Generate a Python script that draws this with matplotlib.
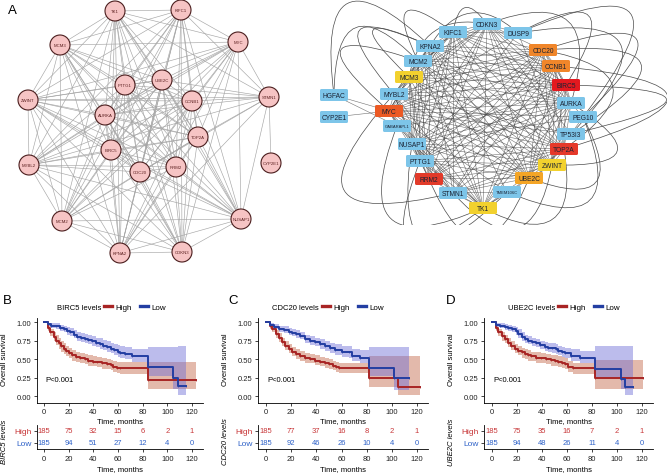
import matplotlib
matplotlib.use("Agg")
import matplotlib.pyplot as plt
from matplotlib.lines import Line2D
from matplotlib.patches import Circle, FancyArrowPatch, FancyBboxPatch

plt.rcParams["font.family"] = ["Liberation Sans", "DejaVu Sans"]

W, H = 667, 477

# ---------------------------------------------------------------- data

# panel A, left: PPI network (layout in picture pixels)
left_layout = {
    "TK1": (115, 12), "KIFC1": (181, 11), "MYC": (238, 43), "MCM3": (60, 46),
    "UBE2C": (162, 81), "PTTG1": (125, 86), "STMN1": (269, 98),
    "ZWINT": (28, 101), "CCNB1": (192, 102), "AURKA": (105, 116),
    "TOP2A": (198, 138), "BIRC5": (111, 151), "CYP2E1": (271, 164),
    "MYBL2": (29, 166), "CDC20": (140, 173), "RRM2": (176, 168),
    "MCM2": (62, 222), "NUSAP1": (241, 220), "KPNA2": (120, 254),
    "CDKN3": (182, 253),
}
left_edges = {
    "TK1": "KIFC1 MYC MCM3 UBE2C PTTG1 STMN1 ZWINT CCNB1 AURKA TOP2A BIRC5 MYBL2 CDC20 RRM2 MCM2 NUSAP1 KPNA2 CDKN3",
    "KIFC1": "MYC MCM3 UBE2C PTTG1 STMN1 ZWINT CCNB1 AURKA TOP2A BIRC5 MYBL2 CDC20 RRM2 MCM2 NUSAP1 KPNA2 CDKN3",
    "MYC": "MCM3 UBE2C PTTG1 STMN1 ZWINT CCNB1 AURKA TOP2A BIRC5 MYBL2 CDC20 MCM2 NUSAP1 KPNA2 CDKN3",
    "MCM3": "UBE2C PTTG1 ZWINT CCNB1 AURKA TOP2A BIRC5 MYBL2 CDC20 RRM2 MCM2 NUSAP1 KPNA2 CDKN3",
    "UBE2C": "PTTG1 STMN1 ZWINT CCNB1 AURKA TOP2A BIRC5 MYBL2 CDC20 RRM2 MCM2 NUSAP1 KPNA2 CDKN3",
    "PTTG1": "STMN1 ZWINT CCNB1 AURKA TOP2A BIRC5 MYBL2 CDC20 RRM2 MCM2 NUSAP1 KPNA2 CDKN3",
    "STMN1": "ZWINT CCNB1 AURKA TOP2A CYP2E1 CDC20 NUSAP1 KPNA2 MYBL2",
    "ZWINT": "CCNB1 AURKA TOP2A BIRC5 MYBL2 CDC20 RRM2 MCM2 NUSAP1 KPNA2 CDKN3",
    "CCNB1": "AURKA TOP2A BIRC5 MYBL2 CDC20 RRM2 MCM2 NUSAP1 KPNA2 CDKN3",
    "AURKA": "TOP2A BIRC5 MYBL2 CDC20 RRM2 MCM2 NUSAP1 KPNA2 CDKN3",
    "TOP2A": "BIRC5 MYBL2 CDC20 RRM2 MCM2 NUSAP1 KPNA2 CDKN3",
    "BIRC5": "MYBL2 CDC20 RRM2 MCM2 NUSAP1 KPNA2 CDKN3",
    "MYBL2": "CDC20 RRM2 MCM2 NUSAP1 KPNA2 CDKN3",
    "CDC20": "RRM2 MCM2 NUSAP1 KPNA2 CDKN3",
    "RRM2": "MCM2 NUSAP1 KPNA2 CDKN3",
    "MCM2": "NUSAP1 KPNA2 CDKN3",
    "NUSAP1": "KPNA2 CDKN3",
    "KPNA2": "CDKN3",
}

# panel A, right: hub network
right_layout = {
    "CDKN3": (487, 25), "KIFC1": (453, 33), "DUSP9": (518, 34),
    "KPNA2": (430, 47), "CDC20": (543, 51), "MCM2": (418, 62),
    "CCNB1": (556, 67), "MCM3": (409, 78), "BIRC5": (566, 86),
    "MYBL2": (394, 95), "HGFAC": (334, 96), "AURKA": (571, 104),
    "MYC": (389, 112), "CYP2E1": (334, 118), "PEG10": (583, 118),
    "GABARAPL1": (397, 127), "TP53I3": (571, 135), "NUSAP1": (412, 145),
    "TOP2A": (564, 150), "PTTG1": (420, 162), "ZWINT": (552, 166),
    "RRM2": (429, 180), "UBE2C": (529, 179), "STMN1": (453, 194),
    "TMEM106C": (507, 193), "TK1": (483, 209),
}
hub_colors = {
    "BIRC5": "#E3191F", "TOP2A": "#E5392A", "RRM2": "#E23B2A",
    "MYC": "#EC5A24", "CDC20": "#F0862A", "CCNB1": "#F0862A",
    "UBE2C": "#F4A526", "MCM3": "#F2D12E", "ZWINT": "#F2D12E",
    "TK1": "#F2D12E",
}
right_extra = {
    "HGFAC": "MYC GABARAPL1",
    "CYP2E1": "MYC",
    "DUSP9": "MYC KIFC1 CDKN3 TOP2A PTTG1",
    "PEG10": "MYC TP53I3 AURKA NUSAP1",
    "TP53I3": "MYC CDKN3 MYBL2",
    "GABARAPL1": "MYC TK1 AURKA",
    "TMEM106C": "MYC STMN1 KPNA2",
}
right_loops = [
    ("DUSP9", "TP53I3"), ("CDC20", "PEG10"), ("CCNB1", "TOP2A"),
    ("BIRC5", "TP53I3"), ("DUSP9", "BIRC5"), ("CDKN3", "AURKA"),
    ("KIFC1", "CDKN3"), ("KPNA2", "DUSP9"), ("KPNA2", "MYBL2"),
    ("MCM2", "MYC"), ("HGFAC", "MCM2"), ("MYBL2", "STMN1"),
    ("GABARAPL1", "TK1"), ("NUSAP1", "TMEM106C"), ("RRM2", "UBE2C"),
    ("PTTG1", "TK1"), ("STMN1", "ZWINT"), ("TK1", "TOP2A"),
    ("UBE2C", "PEG10"), ("ZWINT", "AURKA"), ("TOP2A", "CDC20"),
    ("MCM3", "CDKN3"), ("PEG10", "TMEM106C"), ("CDC20", "TP53I3"),
    ("DUSP9", "PEG10"), ("KIFC1", "MCM2"), ("KPNA2", "MCM3"),
    ("HGFAC", "KPNA2"),
]
loop_rads = [-1.5, -2.2, -2.6, -4.0, -1.8, -1.0, -1.2, -0.6, 2.2, 2.5,
             -1.2, 1.6, 1.2, 1.5, 1.2, 1.8, 1.0, 1.0, 1.3, 1.8, 1.2,
             -0.5, -1.2, -2.0, -1.9, 2.0, 3.0, -1.4]

# panels B-D: Kaplan-Meier curves (months, survival, 95% CI)
birc5_high = dict(
    t=[0, 3, 5, 8, 10, 12, 14, 16, 18, 20, 23, 26, 29, 33, 36, 40, 43, 47, 51, 54, 56, 59, 62, 84.5, 123],
    s=[1, .92, .86, .80, .75, .71, .67, .64, .61, .58, .55, .53, .51, .495, .48, .465, .455, .44, .43, .415, .39, .38, .375, .22, .22],
    lo=[1, .88, .81, .74, .69, .64, .60, .57, .54, .51, .48, .46, .44, .43, .41, .40, .39, .37, .36, .35, .33, .31, .30, .09, .09],
    hi=[1, .96, .91, .86, .82, .78, .74, .71, .68, .65, .62, .60, .58, .57, .55, .54, .53, .51, .50, .49, .47, .46, .46, .46, .46])
birc5_low = dict(
    t=[0, 3, 6, 10, 13, 16, 19, 21, 24, 27, 30, 33, 36, 39, 42, 45, 48, 51, 54, 57, 60, 62, 66, 71, 84, 104.5, 109, 115],
    s=[1, .97, .95, .94, .92, .905, .88, .86, .83, .80, .785, .77, .755, .74, .72, .70, .68, .66, .64, .62, .60, .58, .57, .535, .39, .245, .14, .14],
    lo=[1, .94, .92, .90, .88, .86, .83, .81, .78, .75, .73, .71, .70, .68, .66, .64, .62, .60, .58, .55, .53, .51, .50, .46, .27, .10, .02, .02],
    hi=[1, .99, .98, .98, .96, .95, .93, .92, .89, .87, .85, .84, .83, .81, .79, .78, .76, .74, .72, .70, .69, .67, .66, .63, .66, .66, .68, .68])
cdc20_high = dict(
    t=[0, 3, 5, 8, 10, 13, 15, 18, 21, 24, 27, 31, 35, 39, 43, 47, 50, 53, 56, 58, 81.5, 105, 122],
    s=[1, .94, .905, .84, .79, .73, .68, .64, .60, .565, .545, .51, .50, .48, .465, .45, .43, .41, .39, .375, .25, .125, .125],
    lo=[1, .91, .86, .79, .73, .67, .62, .58, .54, .50, .48, .45, .44, .42, .40, .385, .37, .35, .33, .31, .12, .02, .02],
    hi=[1, .97, .95, .89, .85, .79, .74, .70, .66, .63, .61, .58, .57, .55, .53, .52, .50, .48, .46, .45, .54, .54, .54])
cdc20_low = dict(
    t=[0, 3, 6, 10, 14, 18, 21, 24, 27, 31, 35, 39, 43, 47, 51, 55, 60, 66, 68, 75, 81.5, 101.5, 113.5],
    s=[1, .96, .93, .905, .89, .87, .85, .835, .815, .77, .745, .725, .70, .67, .645, .625, .60, .59, .545, .52, .375, .25, .25],
    lo=[1, .93, .90, .87, .85, .83, .81, .79, .77, .72, .69, .67, .64, .61, .58, .56, .53, .52, .47, .44, .27, .08, .08],
    hi=[1, .99, .97, .95, .94, .92, .90, .89, .87, .83, .81, .79, .77, .74, .72, .70, .68, .67, .64, .62, .66, .66, .66])
ube2c_high = dict(
    t=[0, 3, 5, 8, 10, 13, 15, 18, 21, 24, 26, 29, 31, 35, 39, 43, 47, 50, 53, 56, 58, 61, 65, 82, 121],
    s=[1, .92, .86, .81, .77, .72, .68, .64, .61, .59, .57, .55, .535, .52, .51, .50, .485, .475, .465, .45, .43, .39, .375, .24, .24],
    lo=[1, .88, .81, .75, .71, .66, .62, .58, .55, .52, .50, .48, .47, .45, .44, .43, .41, .40, .39, .38, .36, .32, .30, .10, .10],
    hi=[1, .96, .91, .87, .83, .78, .74, .70, .67, .65, .63, .62, .60, .59, .58, .57, .56, .55, .54, .53, .51, .47, .45, .49, .49])
ube2c_low = dict(
    t=[0, 3, 6, 10, 13, 16, 19, 21, 24, 26, 29, 32, 35, 38, 42, 45, 48, 51, 53, 56, 58, 63, 70, 82, 103, 106, 113],
    s=[1, .96, .95, .93, .92, .905, .88, .84, .80, .77, .75, .725, .71, .69, .665, .655, .645, .63, .61, .59, .575, .545, .51, .365, .23, .125, .125],
    lo=[1, .93, .92, .89, .88, .86, .83, .79, .75, .72, .70, .67, .66, .63, .61, .60, .58, .57, .55, .53, .51, .48, .44, .26, .09, .02, .02],
    hi=[1, .99, .98, .97, .96, .95, .93, .90, .86, .83, .81, .79, .77, .75, .73, .72, .71, .70, .68, .66, .65, .64, .61, .68, .68, .68, .68])

risk_times = [0, 20, 40, 60, 80, 100, 120]
birc5_risk_high = [185, 75, 32, 15, 6, 2, 1]
birc5_risk_low = [185, 94, 51, 27, 12, 4, 0]
cdc20_risk_high = [185, 77, 37, 16, 8, 2, 1]
cdc20_risk_low = [185, 92, 46, 26, 10, 4, 0]
ube2c_risk_high = [185, 75, 35, 16, 7, 2, 1]
ube2c_risk_low = [185, 94, 48, 26, 11, 4, 0]

# ---------------------------------------------------------------- style

RED = "#A82424"
BLUE = "#233EA2"
RED_FILL = "#C97558"
BLUE_FILL = "#6C6CD6"
RED_TXT = "#C8383A"
BLUE_TXT = "#2F62C8"
NODE_BLUE = "#7DC5E9"
FS = 5.5

fig = plt.figure(figsize=(W / 100, H / 100), dpi=100)


def px_axes(x0, y0, x1, y1):
    """Axes placed by picture pixels (top-left origin)."""
    return fig.add_axes([x0 / W, 1 - y1 / H, (x1 - x0) / W, (y1 - y0) / H])


# ---------------------------------------------------------------- panel A

fig.text(8 / W, 1 - 11 / H, "A", fontsize=9.5, va="center", ha="left")

axl = px_axes(0, 0, 300, 272)
axl.set_xlim(0, 300)
axl.set_ylim(272, 0)
axl.axis("off")
for a, nbrs in left_edges.items():
    for b in nbrs.split():
        (x1, y1), (x2, y2) = left_layout[a], left_layout[b]
        axl.plot([x1, x2], [y1, y2], color="#a6a6a6", lw=0.45, zorder=1)
for g, (x, y) in left_layout.items():
    axl.add_patch(Circle((x, y), 10, fc="#F6C4C4", ec="#4A1D1D", lw=0.8,
                         zorder=2))
    axl.text(x, y, g, fontsize=3.1, ha="center", va="center",
             color="#5A1E1E", zorder=3)

axr = px_axes(270, 0, 667, 226)
axr.set_xlim(270, 667)
axr.set_ylim(226, 0)
axr.axis("off")
pairs = [(a, b) for a, nbrs in left_edges.items() for b in nbrs.split()
         if "CYP2E1" not in (a, b)]
pairs += [(a, b) for a, nbrs in right_extra.items() for b in nbrs.split()]
for a, b in pairs:
    (x1, y1), (x2, y2) = right_layout[a], right_layout[b]
    axr.plot([x1, x2], [y1, y2], color="#3a3a3a", lw=0.4, alpha=0.72,
             zorder=1)
for (a, b), rad in zip(right_loops, loop_rads):
    axr.add_patch(FancyArrowPatch(right_layout[a], right_layout[b],
                                  connectionstyle=f"arc3,rad={rad}",
                                  arrowstyle="-", lw=0.5, color="#4a4a4a",
                                  shrinkA=0, shrinkB=0, zorder=1))
for g, (x, y) in right_layout.items():
    axr.add_patch(FancyBboxPatch((x - 14, y - 6), 28, 12,
                                 boxstyle="round,pad=0,rounding_size=1.5",
                                 fc=hub_colors.get(g, NODE_BLUE), ec="none",
                                 zorder=3, clip_on=False))
    small = len(g) > 6
    axr.text(x, y + 0.5, g, fontsize=3.0 if small else 4.8, ha="center",
             va="center", color="#1A2233", zorder=4, clip_on=False)


# ---------------------------------------------------------------- panels B-D

def draw_km(letter, letter_x, gene, spine_x, t0_x, t120_x, title_end,
            high, low, risk_high, risk_low):
    ppm = (t120_x - t0_x) / 120
    xmin, xmax = (spine_x - t0_x) / ppm, 129
    right_x = t0_x + xmax * ppm

    fig.text(letter_x / W, 1 - 301 / H, letter, fontsize=9.5, va="center",
             ha="left")

    ax = px_axes(spine_x, 319.3, right_x, 403.7)
    ax.set_xlim(xmin, xmax)
    ax.set_ylim(-0.09, 1.05)
    for cur, line_c, fill_c, alpha in ((high, RED, RED_FILL, 0.5),
                                       (low, BLUE, BLUE_FILL, 0.45)):
        ax.fill_between(cur["t"], cur["lo"], cur["hi"], step="post",
                        color=fill_c, alpha=alpha, lw=0)
        ax.step(cur["t"], cur["s"], where="post", color=line_c, lw=1.4)
        ax.plot(cur["t"][1:], cur["s"][1:], ls="none", marker="|", ms=2,
                mew=0.5, color=line_c)
    ax.text(1, 0.22, "P<0.001", fontsize=FS, va="center", ha="left")
    ax.set_xticks(risk_times)
    ax.set_yticks([0, 0.25, 0.5, 0.75, 1])
    ax.set_yticklabels(["0.00", "0.25", "0.50", "0.75", "1.00"])
    ax.set_xlabel("Time, months", fontsize=FS, labelpad=1.5)

    tb = px_axes(spine_x, 426, right_x, 450)
    tb.set_xlim(xmin, xmax)
    tb.set_ylim(-0.5, 1.5)
    for t, nh, nl in zip(risk_times, risk_high, risk_low):
        tb.text(t, 1, str(nh), color=RED_TXT, fontsize=FS, ha="center",
                va="center")
        tb.text(t, 0, str(nl), color=BLUE_TXT, fontsize=FS, ha="center",
                va="center")
    tb.set_xticks(risk_times)
    tb.set_yticks([0, 1])
    tb.set_yticklabels(["Low", "High"])
    tb.set_xlabel("Time, months", fontsize=FS, labelpad=2.5)

    for a in (ax, tb):
        for side in ("top", "right"):
            a.spines[side].set_visible(False)
        for side in ("left", "bottom"):
            a.spines[side].set_linewidth(0.6)
        a.tick_params(length=2, width=0.6, pad=2, labelsize=FS,
                      colors="#222222")
    for lab, c in zip(tb.get_yticklabels(), (BLUE_TXT, RED_TXT)):
        lab.set_color(c)
        lab.set_fontsize(FS + 0.5)

    fig.text((spine_x - 32) / W, 1 - 360 / H, "Overall survival",
             fontsize=FS, rotation=90, ha="center", va="center")
    fig.text((spine_x - 32) / W, 1 - 442 / H, f"{gene} levels",
             fontsize=FS, rotation=90, ha="center", va="center",
             style="italic")

    fig.text(title_end / W, 1 - 308 / H, f"{gene} levels", fontsize=FS,
             ha="right", va="center")
    handles = [Line2D([], [], color=c, lw=2.4) for c in (RED, BLUE)]
    ax.legend(handles, ["High", "Low"], loc="center left",
              bbox_to_anchor=((title_end + 3) / W, 1 - 308 / H),
              bbox_transform=fig.transFigure, ncol=2, frameon=False,
              fontsize=FS + 0.3, handlelength=1.0, handletextpad=0.4,
              columnspacing=1.0, borderpad=0, borderaxespad=0)


draw_km("B", 3, "BIRC5", 37, 44, 192, 101, birc5_high, birc5_low,
        birc5_risk_high, birc5_risk_low)
draw_km("C", 228, "CDC20", 258, 266, 417, 319, cdc20_high, cdc20_low,
        cdc20_risk_high, cdc20_risk_low)
draw_km("D", 446, "UBE2C", 484, 492, 642, 555, ube2c_high, ube2c_low,
        ube2c_risk_high, ube2c_risk_low)

fig.savefig("out.png", dpi=100, facecolor="white")
